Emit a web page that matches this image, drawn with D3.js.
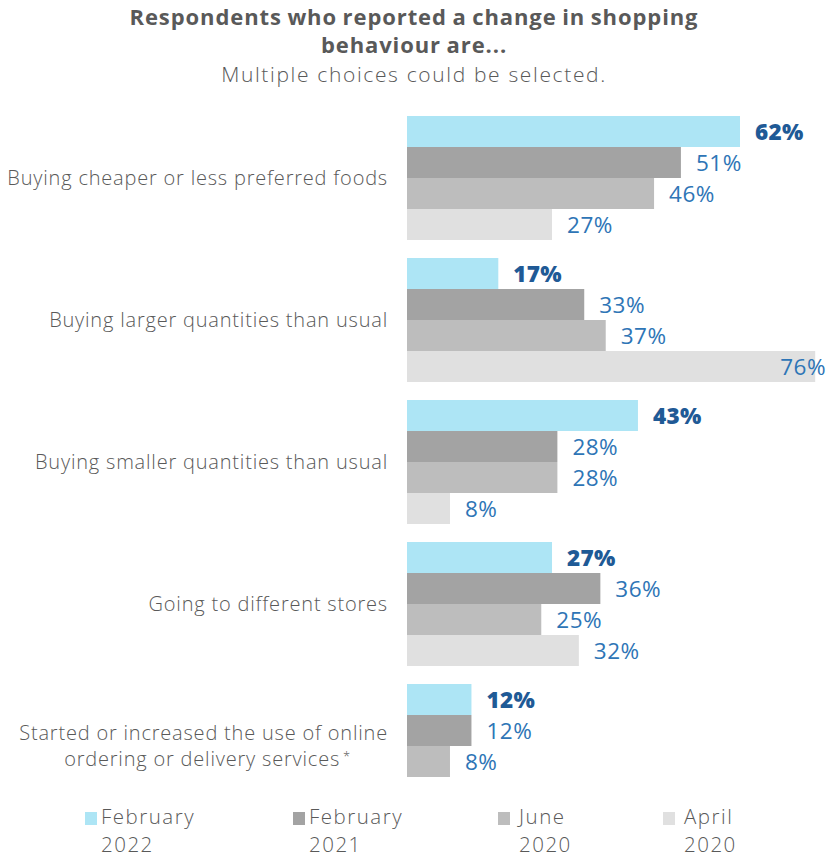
<!DOCTYPE html>
<html>
<head>
<meta charset="utf-8">
<script src="https://cdn.jsdelivr.net/npm/d3@7"></script>
<style>
  html, body { margin: 0; padding: 0; background: #ffffff; }
  svg { display: block; }
</style>
</head>
<body>
<svg id="chart" width="829" height="858"></svg>
<script>
// Survey categories (one group of bars each)
const categories = [
  ["Buying cheaper or less preferred foods"],
  ["Buying larger quantities than usual"],
  ["Buying smaller quantities than usual"],
  ["Going to different stores"],
  ["Started or increased the use of online", "ordering or delivery services"]
];

// Survey waves (one bar each within a group)
const seriesNames = [["February", "2022"], ["February", "2021"], ["June", "2020"], ["April", "2020"]];

// Share of respondents (%) per wave, in category order; null = not asked
const feb2022 = [62, 17, 43, 27, 12];
const feb2021 = [51, 33, 28, 36, 12];
const jun2020 = [46, 37, 28, 25, 8];
const apr2020 = [27, 76, 8, 32, null];

const seriesValues = [feb2022, feb2021, jun2020, apr2020];
const colors = ["#ade5f5", "#a3a3a3", "#bdbdbd", "#e0e0e0"];

const svg = d3.select("#chart");
const W = 829;
const font = "'Open Sans', sans-serif";
const grey = "#595959";

// Title
const titleLines = ["Respondents who reported a change in shopping", "behaviour are..."];
titleLines.forEach((ln, k) => {
  svg.append("text").attr("x", 414).attr("y", 25 + k * 28).attr("text-anchor", "middle")
    .attr("font-family", font).attr("font-weight", 700).attr("font-size", 22)
    .attr("letter-spacing", 0.9).attr("word-spacing", -1).attr("fill", grey)
    .text(ln);
});
svg.append("text").attr("x", 414).attr("y", 82).attr("text-anchor", "middle")
  .attr("font-family", font).attr("font-weight", 300).attr("font-size", 21)
  .attr("letter-spacing", 1.65).attr("fill", grey)
  .text("Multiple choices could be selected.");

// Scales
const x0 = 407;
const x = d3.scaleLinear().domain([0, 62]).range([x0, 740]);
const y = d3.scaleBand().domain(d3.range(categories.length)).range([116, 808])
  .paddingInner(18 / 142).paddingOuter(0);
const ySub = d3.scaleBand().domain(d3.range(seriesValues.length)).range([0, y.bandwidth()]).padding(0);

// Category labels
const catG = svg.append("g");
categories.forEach((lines, i) => {
  const cy = y(i) + y.bandwidth() / 2;
  const lh = 26;
  let firstWidth = 0;
  lines.forEach((ln, k) => {
    const ty = cy + (k - (lines.length - 1) / 2) * lh + 7;
    const t = catG.append("text")
      .attr("font-family", font).attr("font-weight", 300)
      .attr("font-size", 20).attr("letter-spacing", 0.8).attr("fill", grey)
      .attr("y", ty);
    if (k === 0) {
      t.attr("x", 388).attr("text-anchor", "end").text(ln);
      firstWidth = t.node().getComputedTextLength();
    } else {
      // continuation lines are centred under the first line
      t.attr("x", 388 - firstWidth / 2 + 4).attr("text-anchor", "middle");
      t.append("tspan").text(ln);
      if (i === categories.length - 1) {
        t.append("tspan").attr("dx", 3).attr("dy", -5).attr("font-size", 13).text("*");
      }
    }
  });
});

// Bars and value labels
seriesValues.forEach((vals, s) => {
  const g = svg.append("g");
  vals.forEach((v, i) => {
    if (v == null) return;
    const by = y(i) + ySub(s);
    const bh = ySub.bandwidth();
    g.append("rect")
      .attr("x", x0).attr("y", by)
      .attr("width", x(v) - x0).attr("height", bh)
      .attr("fill", colors[s]);
    const label = v + "%";
    const bold = s === 0;
    let lx = x(v) + 15, anchor = "start";
    if (lx + 50 > W) { lx = W - 3; anchor = "end"; }
    g.append("text")
      .attr("x", lx).attr("y", by + bh / 2 + 8)
      .attr("text-anchor", anchor)
      .attr("font-family", font).attr("font-size", 22.5)
      .attr("letter-spacing", bold ? 0.3 : 0.5)
      .attr("font-weight", bold ? 800 : 400)
      .attr("fill", bold ? "#1f5a96" : "#2e75b6")
      .text(label);
  });
});

// Legend: swatch plus a two-line label for each survey wave
const legendX = [85, 293, 498, 663];
seriesNames.forEach((nm, s) => {
  const lx = legendX[s];
  svg.append("rect").attr("x", lx).attr("y", 812).attr("width", 12).attr("height", 13)
    .attr("fill", colors[s]);
  const tx = nm[0] === "February" ? lx + 16 : lx + 21;
  nm.forEach((part, k) => {
    svg.append("text").attr("font-family", font).attr("font-weight", 300)
      .attr("font-size", 20.5).attr("letter-spacing", 1.5).attr("fill", grey)
      .attr("x", tx).attr("y", 824 + k * 28).text(part);
  });
});
</script>
</body>
</html>
